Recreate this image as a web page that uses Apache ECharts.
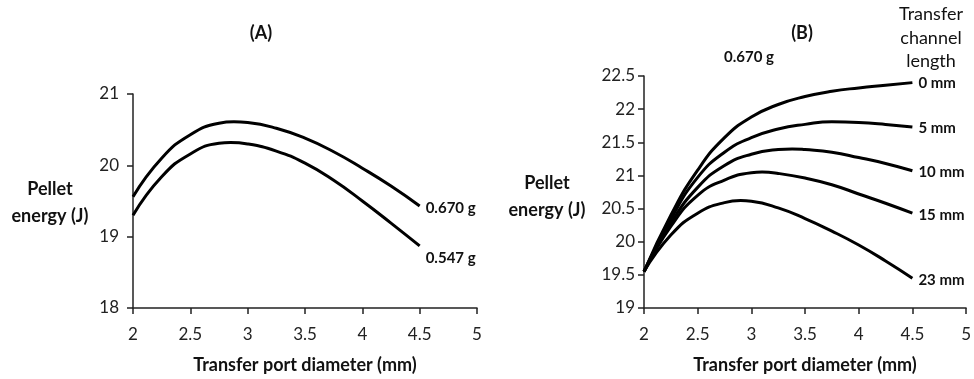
<!DOCTYPE html>
<html>
<head>
<meta charset="utf-8">
<script src="https://cdn.jsdelivr.net/npm/echarts@6/dist/echarts.min.js"></script>
<style>
    html, body { margin: 0; padding: 0; background: #fff; }
    #chart { width: 974px; height: 379px; }
</style>
</head>
<body>
<div id="chart"></div>
<script>
// x = transfer port diameter (mm), y = pellet energy (J)
// readings every 0.25 mm along each curve, plus the peak of the curve

// panel A - two pellet masses
var a670X = [2, 2.25, 2.5, 2.75, 2.88, 3, 3.25, 3.5, 3.75, 4, 4.25, 4.5];
var a670Y = [19.56, 20.10, 20.43, 20.59, 20.61, 20.60, 20.52, 20.38, 20.19, 19.96, 19.71, 19.43];
var a547X = [2, 2.25, 2.5, 2.75, 2.85, 3, 3.25, 3.5, 3.75, 4, 4.25, 4.5];
var a547Y = [19.30, 19.84, 20.16, 20.31, 20.32, 20.30, 20.20, 20.03, 19.79, 19.50, 19.19, 18.87];

// panel B - transfer channel length, 0.670 g pellet
var b0X = [2, 2.25, 2.5, 2.75, 3, 3.25, 3.5, 3.75, 4, 4.25, 4.5];
var b0Y = [19.55, 20.40, 21.08, 21.57, 21.88, 22.07, 22.19, 22.27, 22.32, 22.36, 22.40];
var b5X = [2, 2.25, 2.5, 2.75, 3, 3.25, 3.5, 3.75, 4, 4.25, 4.5];
var b5Y = [19.55, 20.34, 20.97, 21.35, 21.57, 21.70, 21.77, 21.81, 21.80, 21.77, 21.73];
var b10X = [2, 2.25, 2.5, 2.75, 3, 3.25, 3.38, 3.5, 3.75, 4, 4.25, 4.5];
var b10Y = [19.55, 20.28, 20.82, 21.15, 21.32, 21.39, 21.40, 21.39, 21.35, 21.27, 21.18, 21.07];
var b15X = [2, 2.25, 2.5, 2.75, 3, 3.1, 3.25, 3.5, 3.75, 4, 4.25, 4.5];
var b15Y = [19.55, 20.23, 20.70, 20.93, 21.04, 21.05, 21.03, 20.96, 20.86, 20.72, 20.58, 20.43];
var b23X = [2, 2.25, 2.5, 2.75, 2.9, 3, 3.25, 3.5, 3.75, 4, 4.25, 4.5];
var b23Y = [19.55, 20.10, 20.43, 20.59, 20.62, 20.61, 20.51, 20.35, 20.16, 19.95, 19.71, 19.45];

var massNames = ['0.670 g', '0.547 g'];
var channelNames = ['0 mm', '5 mm', '10 mm', '15 mm', '23 mm'];

var FONT = 'Lato, "Open Sans", sans-serif';

function pairs(xs, ys) {
    var out = [];
    for (var i = 0; i < xs.length; i++) {
        out.push([xs[i], ys[i]]);
    }
    return out;
}

function curve(name, xs, ys, idx, dy) {
    return {
        name: name,
        type: 'line',
        xAxisIndex: idx,
        yAxisIndex: idx,
        data: pairs(xs, ys),
        smooth: 0.5,
        showSymbol: false,
        silent: true,
        lineStyle: { color: '#000', width: 3 },
        endLabel: {
            show: true,
            formatter: name,
            color: '#111',
            fontFamily: FONT,
            fontWeight: 'bold',
            fontSize: 15,
            distance: 6,
            offset: [0, dy]
        }
    };
}

function xAx(idx) {
    return {
        type: 'value',
        gridIndex: idx,
        min: 2,
        max: 5,
        interval: 0.5,
        name: 'Transfer port diameter (mm)',
        nameLocation: 'middle',
        nameGap: 48,
        nameTextStyle: { color: '#111', fontFamily: FONT, fontWeight: 'bold', fontSize: 18 },
        axisLine: { lineStyle: { color: '#222', width: 1.5 } },
        axisTick: { show: true, length: 6, lineStyle: { color: '#222', width: 1.5 } },
        axisLabel: { color: '#222', fontFamily: FONT, fontSize: 17, margin: 18 },
        splitLine: { show: false }
    };
}

function yAx(idx, min, max, step, margin) {
    return {
        type: 'value',
        gridIndex: idx,
        min: min,
        max: max,
        interval: step,
        axisLine: { show: true, lineStyle: { color: '#222', width: 1.5 } },
        axisTick: { show: true, length: 6, lineStyle: { color: '#222', width: 1.5 } },
        axisLabel: { color: '#222', fontFamily: FONT, fontSize: 17, margin: margin },
        splitLine: { show: false }
    };
}

function txt(x, y, s, size, weight, lh) {
    return {
        type: 'text',
        x: x,
        y: y,
        style: {
            text: s,
            fill: '#111',
            font: (weight || 'bold') + ' ' + size + 'px ' + FONT,
            align: 'center',
            verticalAlign: 'middle',
            lineHeight: lh || size + 8
        }
    };
}

var chart = echarts.init(document.getElementById('chart'), null, { renderer: 'canvas' });

var option = {
    backgroundColor: '#fff',
    animation: false,
    grid: [
        { left: 133, top: 94, width: 344, height: 214 },
        { left: 644, top: 76, width: 323, height: 238 }
    ],
    xAxis: [xAx(0), xAx(1)],
    yAxis: [yAx(0, 18, 21, 1, 14), yAx(1, 19, 22.5, 0.5, 9)],
    series: [
        curve(massNames[0], a670X, a670Y, 0, 2),
        curve(massNames[1], a547X, a547Y, 0, 12),
        curve(channelNames[0], b0X, b0Y, 1, 1),
        curve(channelNames[1], b5X, b5Y, 1, 1),
        curve(channelNames[2], b10X, b10Y, 1, 1),
        curve(channelNames[3], b15X, b15Y, 1, 2),
        curve(channelNames[4], b23X, b23Y, 1, 2)
    ],
    graphic: [
        txt(261, 33, '(A)', 18),
        txt(802, 33, '(B)', 18),
        txt(749, 57, '0.670 g', 15),
        txt(50, 203, 'Pellet\nenergy (J)', 18, 'bold', 27),
        txt(547, 197, 'Pellet\nenergy (J)', 18, 'bold', 27),
        txt(931, 38, 'Transfer\nchannel\nlength', 18, 'normal', 23.5)
    ]
};

chart.setOption(option);
</script>
</body>
</html>
